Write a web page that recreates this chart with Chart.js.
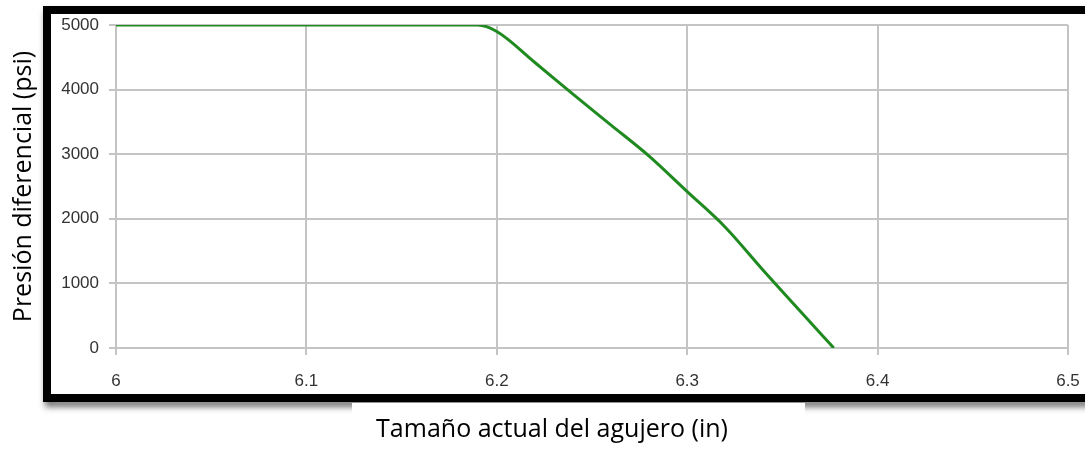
<!DOCTYPE html>
<html>
<head>
<meta charset="utf-8">
<script src="https://cdn.jsdelivr.net/npm/chart.js@4.4.0/dist/chart.umd.min.js"></script>
<style>
  html, body { margin: 0; padding: 0; background: #fff; }
  #wrap { width: 1085px; height: 453px; position: relative; }
</style>
</head>
<body>
<div id="wrap"><canvas id="holeChart"></canvas></div>
<script>
// hole size (in) vs differential pressure (psi)
const holeSize = [6.0, 6.19, 6.2, 6.22, 6.24, 6.26, 6.28, 6.3, 6.32, 6.34, 6.36, 6.377];
const diffPressure = [5000, 5000, 4900, 4420, 3930, 3450, 2970, 2420, 1870, 1200, 550, 0];

const xTicks = [6, 6.1, 6.2, 6.3, 6.4, 6.5];
const yTicks = [0, 1000, 2000, 3000, 4000, 5000];

const xTitle = "Tamaño actual del agujero (in)";
const yTitle = "Presión diferencial (psi)";

const titleFont = "'Open Sans', 'Noto Sans', sans-serif";
const tickFont = "'Liberation Sans', Arial, sans-serif";

// black frame with drop shadow behind the plot
const framePlugin = {
    id: "frame",
    beforeDraw(chart) {
        const ctx = chart.ctx;
        ctx.save();
        ctx.shadowColor = "rgba(0,0,0,0.55)";
        ctx.shadowBlur = 6;
        ctx.shadowOffsetX = 2;
        ctx.shadowOffsetY = 5;
        ctx.strokeStyle = "#000";
        ctx.lineWidth = 8;
        ctx.strokeRect(47, 10, 1060, 388);
        ctx.restore();
        ctx.save();
        ctx.fillStyle = "#fff";
        ctx.fillRect(51, 14, 1040, 380);
        ctx.restore();
    },
    afterDraw(chart) {
        // x title sits under the frame on its own white strip
        const ctx = chart.ctx;
        ctx.save();
        ctx.fillStyle = "#fff";
        ctx.fillRect(352, 403, 453, 50);
        ctx.fillStyle = "#000";
        ctx.font = "25px " + titleFont;
        ctx.textAlign = "center";
        ctx.textBaseline = "middle";
        ctx.fillText(xTitle, 552, 430);
        ctx.restore();
    }
};

const ctx = document.getElementById("holeChart").getContext("2d");
new Chart(ctx, {
    type: "line",
    data: {
        datasets: [
            {
                data: holeSize.map((x, i) => ({ x: x, y: diffPressure[i] })),
                borderColor: "#1f8a1f",
                borderWidth: 3,
                pointRadius: 0,
                cubicInterpolationMode: "monotone",
                fill: false,
            },
        ],
    },
    options: {
        responsive: true,
        maintainAspectRatio: false,
        animation: false,
        layout: { padding: { left: 0, top: 25, right: 17, bottom: 0 } },
        plugins: {
            legend: { display: false },
            tooltip: { enabled: false },
        },
        scales: {
            x: {
                type: "linear",
                min: xTicks[0],
                max: xTicks[xTicks.length - 1],
                afterBuildTicks: (s) => { s.ticks = xTicks.map((v) => ({ value: v })); },
                afterFit: (s) => {
                    s.height = 105;
                    s.paddingLeft = 0;
                    s.paddingRight = 0;
                },
                grid: { color: "#c4c4c4", lineWidth: 2, tickLength: 7 },
                border: { color: "#c4c4c4", width: 2 },
                ticks: {
                    padding: 16,
                    maxRotation: 0,
                    color: "#333",
                    font: { family: tickFont, size: 17 },
                    callback: (v) => String(Math.round(v * 10) / 10),
                },
            },
            y: {
                min: yTicks[0],
                max: yTicks[yTicks.length - 1],
                afterBuildTicks: (s) => { s.ticks = yTicks.map((v) => ({ value: v })); },
                afterFit: (s) => { s.width = 116; },
                grid: { color: "#c4c4c4", lineWidth: 2, tickLength: 7 },
                border: { color: "#c4c4c4", width: 2 },
                title: {
                    display: true,
                    text: yTitle,
                    color: "#000",
                    font: { family: titleFont, size: 25 },
                    padding: { top: 9, bottom: 0 },
                },
                ticks: {
                    padding: 10,
                    color: "#333",
                    font: { family: tickFont, size: 17 },
                    callback: (v) => String(v),
                },
            },
        },
    },
    plugins: [framePlugin],
});
</script>
</body>
</html>
